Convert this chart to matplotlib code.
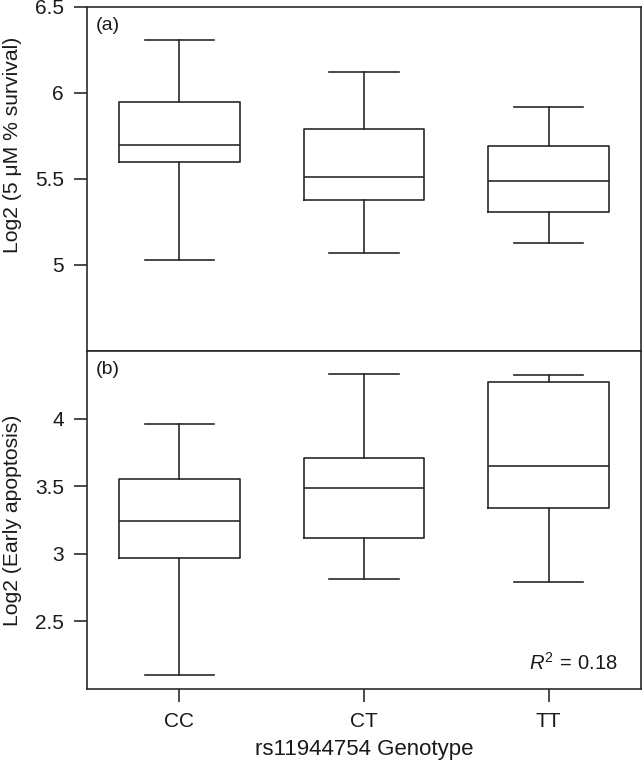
import matplotlib
matplotlib.use("Agg")
import matplotlib.pyplot as plt

plt.rcParams['font.family'] = ['Liberation Sans', 'DejaVu Sans']
plt.rcParams['mathtext.fontset'] = 'custom'
plt.rcParams['mathtext.rm'] = 'Liberation Sans'
plt.rcParams['mathtext.it'] = 'Liberation Sans:italic'

genotypes = ["CC", "CT", "TT"]

# Panel (a): Log2 (5 uM % survival)
surv_whislo = [5.03, 5.07, 5.13]
surv_q1 = [5.60, 5.38, 5.31]
surv_med = [5.70, 5.51, 5.49]
surv_q3 = [5.95, 5.79, 5.69]
surv_whishi = [6.31, 6.12, 5.92]

# Panel (b): Log2 (Early apoptosis)
apo_whislo = [2.10, 2.81, 2.79]
apo_q1 = [2.97, 3.12, 3.34]
apo_med = [3.24, 3.49, 3.65]
apo_q3 = [3.55, 3.71, 4.27]
apo_whishi = [3.96, 4.33, 4.32]

r2_text = "0.18"

col = "#2a2a2a"
tcol = "#1a1a1a"
lw = 1.2


def make_stats(lo, q1, med, q3, hi, labels):
    return [dict(whislo=a, q1=b, med=c, q3=d, whishi=e, label=l, fliers=[])
            for a, b, c, d, e, l in zip(lo, q1, med, q3, hi, labels)]


fig = plt.figure(figsize=(6.42, 7.67), dpi=100)
L = 87 / 642
W = (641 - 87) / 642
ax1 = fig.add_axes([L, 1 - 351 / 767, W, 344 / 767])
ax2 = fig.add_axes([L, 1 - 689 / 767, W, 338 / 767])

props = dict(
    widths=0.655,
    capwidths=0.375,
    boxprops=dict(color=col, linewidth=lw),
    whiskerprops=dict(color=col, linewidth=lw),
    capprops=dict(color=col, linewidth=lw),
    medianprops=dict(color=col, linewidth=lw),
    showfliers=False,
)

ax1.bxp(make_stats(surv_whislo, surv_q1, surv_med, surv_q3, surv_whishi, genotypes),
        positions=[1, 2, 3], **props)
ax2.bxp(make_stats(apo_whislo, apo_q1, apo_med, apo_q3, apo_whishi, genotypes),
        positions=[1, 2, 3], **props)

for ax in (ax1, ax2):
    ax.set_xlim(0.5, 3.5)
    for s in ax.spines.values():
        s.set_color(col)
        s.set_linewidth(lw)
    ax.tick_params(axis='y', direction='out', length=9.5, width=lw, color=col,
                   labelsize=15, pad=7, labelcolor=tcol)

ax1.set_ylim(4.5, 6.5)
ax1.set_yticks([5, 5.5, 6, 6.5])
ax1.set_yticklabels(["5", "5.5", "6", "6.5"])
ax1.set_xticks([])
ax1.set_ylabel("Log2 (5 \u03bcM % survival)", fontsize=15.2, color=tcol)
ax1.yaxis.set_label_coords(-0.117, 0.60)

ax2.set_ylim(2.0, 4.5)
ax2.set_yticks([2.5, 3, 3.5, 4])
ax2.set_yticklabels(["2.5", "3", "3.5", "4"])
ax2.set_xticks([1, 2, 3])
ax2.set_xticklabels(genotypes)
ax2.tick_params(axis='x', direction='out', length=9.5, width=lw, color=col,
                labelsize=15, pad=7, labelcolor=tcol)
ax2.set_ylabel("Log2 (Early apoptosis)", fontsize=15.2, color=tcol)
ax2.yaxis.set_label_coords(-0.117, 0.5)
ax2.set_xlabel("rs11944754 Genotype", fontsize=16, color=tcol, labelpad=6)

ax1.text(0.015, 0.97, "(a)", transform=ax1.transAxes, ha='left', va='top',
         fontsize=14, color=tcol)
ax2.text(0.015, 0.97, "(b)", transform=ax2.transAxes, ha='left', va='top',
         fontsize=14, color=tcol)
ax2.text(0.957, 0.045, r"$R^{\mathrm{2}}\,=\,$" + r2_text, transform=ax2.transAxes,
         ha='right', va='bottom', fontsize=14.5, color=tcol)

fig.savefig("out.png", dpi=100)
